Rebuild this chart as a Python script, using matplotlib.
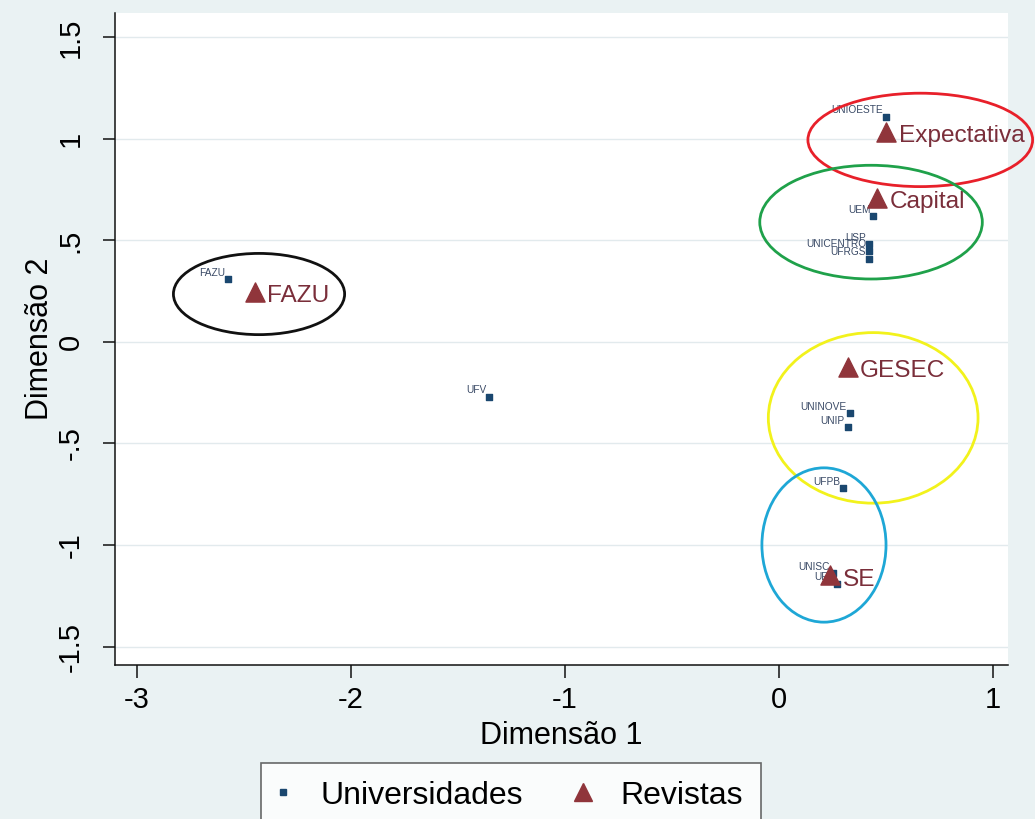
import matplotlib
matplotlib.use("Agg")
import matplotlib.pyplot as plt
from matplotlib.patches import Ellipse
from matplotlib.lines import Line2D

# universities (small squares)
univ_names = ["UNIOESTE", "UEM", "USP", "UNICENTRO", "UFRGS", "UNINOVE",
              "UNIP", "UFPB", "UNISC", "UFS", "FAZU", "UFV"]
univ_x = [0.50, 0.44, 0.42, 0.42, 0.42, 0.33, 0.32, 0.30, 0.25, 0.27, -2.575, -1.355]
univ_y = [1.11, 0.62, 0.48, 0.45, 0.41, -0.35, -0.42, -0.72, -1.14, -1.19, 0.31, -0.27]

# journals (triangles)
rev_names = ["Expectativa", "Capital", "FAZU", "GESEC", "SE"]
rev_x = [0.50, 0.46, -2.45, 0.32, 0.24]
rev_y = [1.035, 0.71, 0.245, -0.125, -1.15]

# groups circled by hand in the original
ell_x = [0.66, 0.43, -2.43, 0.44, 0.21]
ell_y = [0.995, 0.59, 0.236, -0.374, -1.0]
ell_w = [1.05, 1.04, 0.80, 0.98, 0.58]
ell_h = [0.46, 0.56, 0.40, 0.84, 0.76]
ell_colors = ["#e8202a", "#1fa14a", "#111111", "#f2f21c", "#1ea7d6"]

xticks = [-3, -2, -1, 0, 1]
xtick_labels = ["-3", "-2", "-1", "0", "1"]
yticks = [-1.5, -1, -0.5, 0, 0.5, 1, 1.5]
ytick_labels = ["-1.5", "-1", "-.5", "0", ".5", "1", "1.5"]

navy = "#1a476f"
maroon = "#90353b"
bg = "#eaf2f3"

plt.rcParams["font.family"] = ["Liberation Sans", "DejaVu Sans"]

fig = plt.figure(figsize=(10.35, 8.19), dpi=100, facecolor=bg)
ax = fig.add_axes([115 / 1035, (819 - 665) / 819, (1008 - 115) / 1035, (665 - 13) / 819])
ax.set_facecolor("white")
ax.set_xlim(-3.103, 1.07)
ax.set_ylim(-1.591, 1.62)

for side in ["top", "right"]:
    ax.spines[side].set_visible(False)
for side in ["left", "bottom"]:
    ax.spines[side].set_color("#111111")
    ax.spines[side].set_linewidth(1.1)

ax.set_xticks(xticks)
ax.set_xticklabels(xtick_labels)
ax.set_yticks(yticks)
ax.set_yticklabels(ytick_labels, rotation=90, va="center")
ax.tick_params(axis="x", length=9, width=1.1, pad=6, labelsize=21, color="#111111")
ax.tick_params(axis="y", length=9, width=1.1, pad=13, labelsize=21, color="#111111")
ax.yaxis.grid(True, color="#e2eaed", linewidth=1.0)
ax.set_axisbelow(True)

ax.set_xlabel("Dimensão 1", fontsize=22, labelpad=5)
ax.set_ylabel("Dimensão 2", fontsize=22, labelpad=1)

ax.scatter(univ_x, univ_y, marker="s", s=20, color=navy, zorder=3)
for name, x, y in zip(univ_names, univ_x, univ_y):
    ax.annotate(name, (x, y), xytext=(-2, 1), textcoords="offset points",
                ha="right", va="bottom", fontsize=7.3, color="#3a4a66", zorder=3)

ax.scatter(rev_x, rev_y, marker="^", s=190, color=maroon, zorder=4)
for name, x, y in zip(rev_names, rev_x, rev_y):
    ax.annotate(name, (x, y), xytext=(9, -3), textcoords="offset points",
                ha="left", va="center", fontsize=17.6, color="#7a2e3a", zorder=4)

for cx, cy, w, h, c in zip(ell_x, ell_y, ell_w, ell_h, ell_colors):
    ax.add_patch(Ellipse((cx, cy), w, h, fill=False, edgecolor=c,
                         linewidth=2, clip_on=False, zorder=5))

handles = [
    Line2D([], [], linestyle="none", marker="s", markersize=4, color=navy),
    Line2D([], [], linestyle="none", marker="^", markersize=13, color=maroon),
]
leg = fig.legend(handles, ["Universidades", "Revistas"], loc="upper center",
                 bbox_to_anchor=(511 / 1035, 1 - 763 / 819), ncol=2,
                 fontsize=23, frameon=True, fancybox=False, edgecolor="#444444",
                 handlelength=0.25, handletextpad=1.05, columnspacing=1.75,
                 borderpad=0.55, borderaxespad=0)
leg.get_frame().set_linewidth(1.2)

fig.savefig("out.png", dpi=100, facecolor=bg)
